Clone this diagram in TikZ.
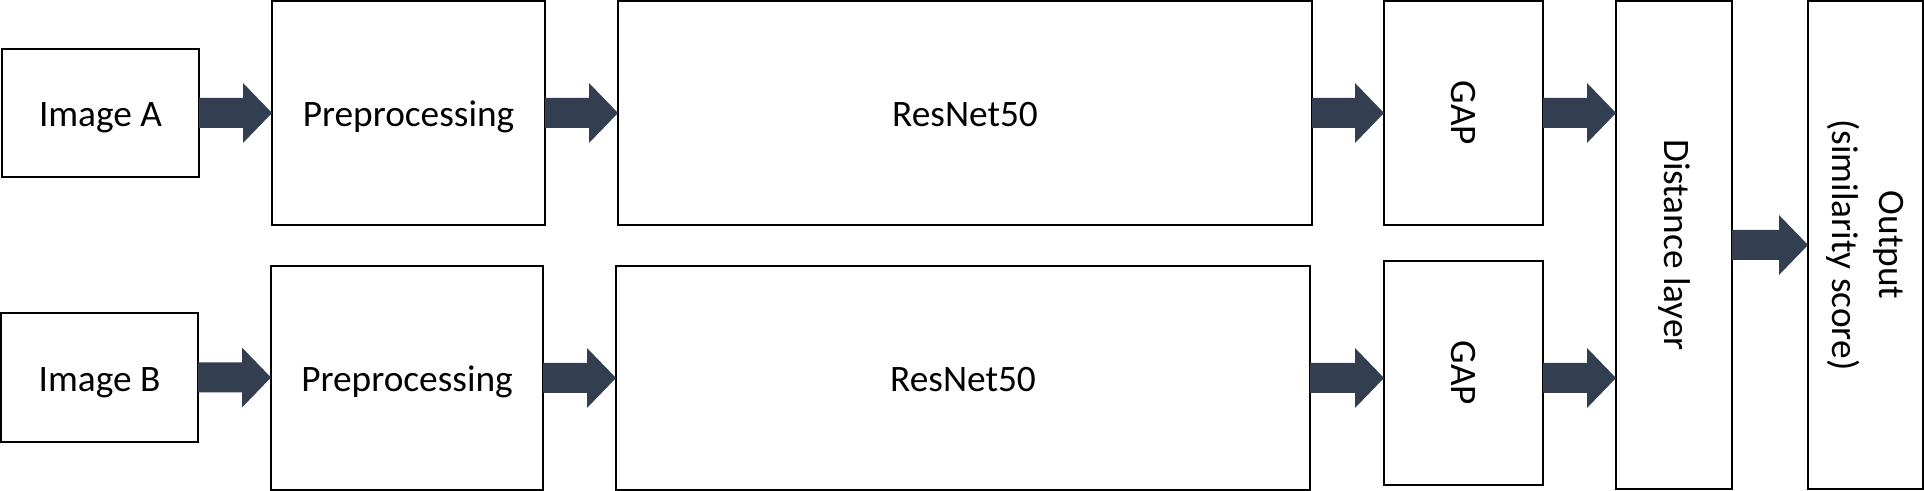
\documentclass[tikz,border=0pt]{standalone}
\usepackage{fontspec}
\setmainfont{Carlito}
\usetikzlibrary{calc}
\definecolor{arrowfill}{HTML}{333F50}
\newcommand\blkarrow[2]{\fill[arrowfill] let \p1=#1, \p2=#2 in
  (\x1,\y1+11.25pt) -- (\x2-21.75pt,\y1+11.25pt) -- (\x2-21.75pt,\y1+22.5pt) -- (\x2,\y1)
  -- (\x2-21.75pt,\y1-22.5pt) -- (\x2-21.75pt,\y1-11.25pt) -- (\x1,\y1-11.25pt) -- cycle;}
\begin{document}
\begin{tikzpicture}[x=0.75pt,y=-0.75pt,
  box/.style 2 args={draw=black, line width=1.1pt, fill=white, inner sep=0pt, outer sep=0pt,
    minimum width=#1*0.75pt, minimum height=#2*0.75pt,
    font=\fontsize{28}{35}\selectfont, align=center},
  hbox/.style 2 args={box={#1}{#2}, text height=25.2pt, text depth=4.9pt}]
\useasboundingbox (0,0) rectangle (1924,491);
% row A
\node[hbox={197}{128}] (imgA) at (100.5,113) {Image A};
\node[hbox={273}{224}] (preA) at (408.5,113) {Preprocessing};
\node[hbox={694}{224}] (resA) at (965,113) {ResNet50};
\node[box={159}{224}] (gapA) at (1463.5,113) {\rotatebox{-90}{GAP}};
% row B
\node[hbox={197}{129}] (imgB) at (99.5,377.5) {Image B};
\node[hbox={272}{224}] (preB) at (407,378) {Preprocessing};
\node[hbox={694}{224}] (resB) at (963,378) {ResNet50};
\node[box={159}{224}] (gapB) at (1463.5,373) {\rotatebox{-90}{GAP}};
% right column
\node[box={116}{488}] (dist) at (1674,245) {\rotatebox{-90}{Distance layer}};
\node[box={115}{488}] (out) at (1865.5,245) {\rotatebox{-90}{\begin{tabular}{@{}c@{}}Output\\(similarity score)\end{tabular}}};
% arrows
\blkarrow{(imgA.east)}{(preA.west)}
\blkarrow{(preA.east)}{(resA.west)}
\blkarrow{(resA.east)}{(gapA.west)}
\blkarrow{(gapA.east)}{(dist.west)}
\blkarrow{(imgB.east)}{(preB.west)}
\blkarrow{(preB.east)}{(resB.west)}
\blkarrow{(resB.east)}{(gapB.west)}
\blkarrow{(gapB.east |- resB.east)}{(dist.west)}
\blkarrow{(dist.east)}{(out.west)}
\end{tikzpicture}
\end{document}
